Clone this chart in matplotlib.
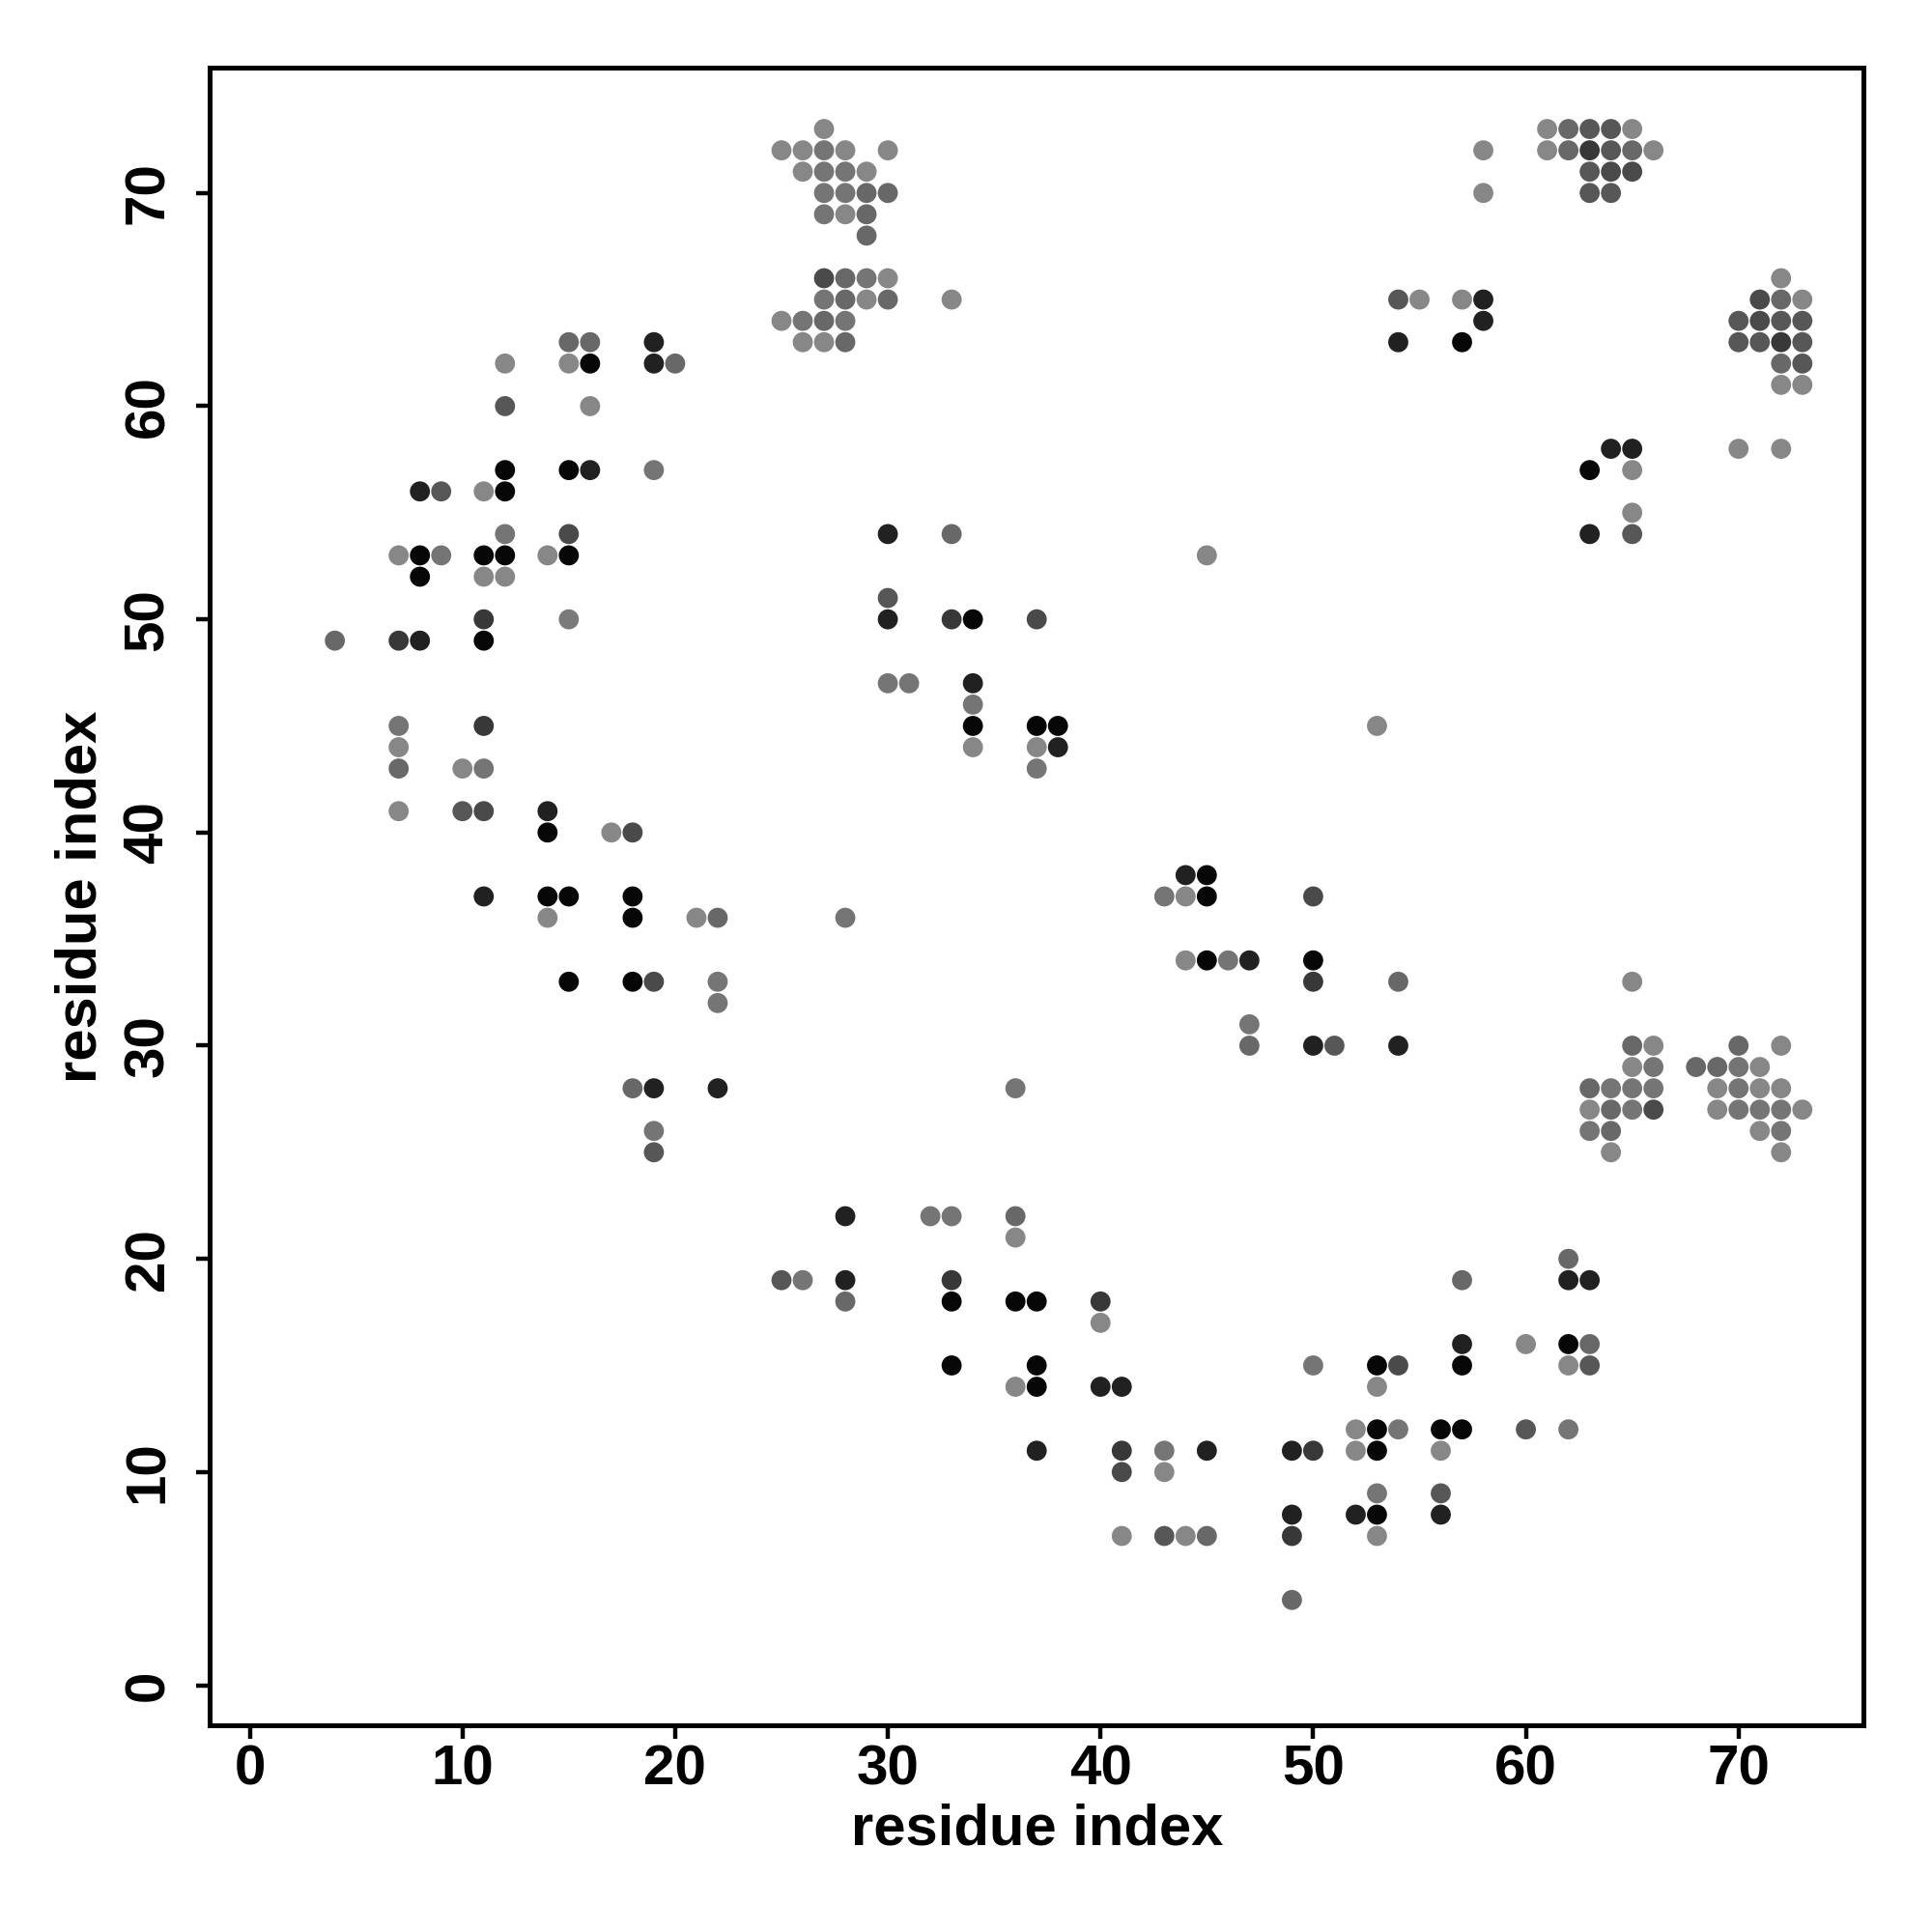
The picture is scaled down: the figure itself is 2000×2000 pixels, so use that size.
import matplotlib
matplotlib.use("Agg")
import matplotlib.pyplot as plt
import numpy as np

# gray shades used for contact strength (0 = black, 1 = white)
K, D, S, M4, M5, M6, M7, L = 0.03, 0.13, 0.22, 0.29, 0.34, 0.41, 0.46, 0.53

# contacts: (residue i, residue j, shade)
contacts = [
    # upper left
    (25, 72, L), (26, 72, L), (26, 71, L), (25, 64, L), (26, 64, M7), (26, 63, L),
    (15, 63, M6), (16, 63, M6), (19, 63, D),
    (12, 62, L), (15, 62, L), (16, 62, K), (19, 62, D), (20, 62, M6),
    (12, 60, M5), (16, 60, L),
    (12, 57, K), (15, 57, K), (16, 57, D), (19, 57, M7),
    (8, 56, D), (9, 56, M5), (11, 56, L), (12, 56, K),
    (12, 54, M7), (15, 54, M4),
    (7, 53, L), (8, 53, K), (9, 53, M7), (11, 53, K), (12, 53, K), (14, 53, L), (15, 53, K),
    (8, 52, K), (11, 52, L), (12, 52, L),
    (11, 50, S), (15, 50, 0.48),
    (4, 49, M6), (7, 49, S), (8, 49, D), (11, 49, K),
    # left middle
    (7, 45, M7), (11, 45, S), (7, 44, L),
    (7, 43, M6), (10, 43, L), (11, 43, M7),
    (7, 41, L), (10, 41, M5), (11, 41, M4), (14, 41, D),
    (14, 40, K), (17, 40, L), (18, 40, M4),
    (11, 37, D), (14, 37, K), (15, 37, K), (18, 37, K),
    (14, 36, L), (18, 36, K), (21, 36, L), (22, 36, M6),
    (15, 33, K), (18, 33, K), (19, 33, M4), (22, 33, M7),
    (22, 32, M7),
    (18, 28, M6), (19, 28, D), (22, 28, D),
    (19, 26, M7), (19, 25, M5),
    # top centre cluster
    (27, 73, L),
    (27, 72, M7), (28, 72, L), (30, 72, L),
    (27, 71, M7), (28, 71, M7), (29, 71, L),
    (27, 70, M7), (28, 70, M7), (29, 70, M6), (30, 70, M6),
    (27, 69, M7), (28, 69, L), (29, 69, M6),
    (29, 68, M6),
    (27, 66, M4), (28, 66, M6), (29, 66, M7), (30, 66, L),
    (27, 65, M7), (28, 65, M6), (29, 65, L), (30, 65, M6),
    (27, 64, M6), (28, 64, M7),
    (27, 63, L), (28, 63, M6),
    (33, 65, L),
    (30, 54, D), (33, 54, M6), (45, 53, L), (30, 51, M5),
    (30, 50, D), (33, 50, S), (34, 50, K), (37, 50, M4),
    # centre
    (30, 47, M7), (31, 47, M7), (34, 47, D), (34, 46, M7),
    (34, 45, K), (37, 45, K), (38, 45, K),
    (34, 44, L), (37, 44, L), (38, 44, D), (37, 43, M7),
    (44, 38, D), (45, 38, K),
    (43, 37, M7), (44, 37, L), (45, 37, K), (50, 37, M4),
    (28, 36, M7),
    (44, 34, L), (45, 34, K), (46, 34, M7), (47, 34, D), (50, 34, K),
    (50, 33, S), (47, 31, M7),
    (47, 30, M6), (50, 30, D), (51, 30, M5),
    (36, 28, M7),
    # top right
    (61, 73, L), (62, 73, M6), (63, 73, M5), (64, 73, M5), (65, 73, L),
    (58, 72, L), (61, 72, L), (62, 72, M6), (63, 72, S), (64, 72, M5), (65, 72, M6), (66, 72, L),
    (63, 71, M5), (64, 71, M4), (65, 71, M4),
    (58, 70, L), (63, 70, M5), (64, 70, M5),
    (72, 66, L),
    (54, 65, M5), (55, 65, L), (57, 65, L), (58, 65, D), (71, 65, M4), (72, 65, M6), (73, 65, L),
    (58, 64, D), (70, 64, M5), (71, 64, M4), (72, 64, M5), (73, 64, M5),
    (54, 63, D), (57, 63, K), (70, 63, M5), (71, 63, M5), (72, 63, S), (73, 63, M5),
    (72, 62, M6), (73, 62, M5),
    (72, 61, L), (73, 61, L),
    (64, 58, D), (65, 58, D), (70, 58, L), (72, 58, L),
    (63, 57, K), (65, 57, L), (65, 55, L),
    (63, 54, D), (65, 54, M5),
    # right middle
    (53, 45, L),
    (54, 33, M6), (65, 33, L),
    (54, 30, D), (65, 30, M6), (66, 30, L), (70, 30, M6), (72, 30, L),
    (65, 29, L), (66, 29, M7), (68, 29, M6), (69, 29, M6), (70, 29, M7), (71, 29, L),
    (63, 28, M6), (64, 28, M7), (65, 28, M7), (66, 28, M7), (69, 28, L), (70, 28, M7), (71, 28, L), (72, 28, L),
    (63, 27, L), (64, 27, M6), (65, 27, M7), (66, 27, M4), (69, 27, L), (70, 27, M7), (71, 27, M7), (72, 27, M7), (73, 27, L),
    (63, 26, M7), (64, 26, M6), (71, 26, L), (72, 26, M7),
    (64, 25, L), (72, 25, L),
    # bottom centre
    (28, 22, D), (32, 22, M7), (33, 22, M7), (36, 22, M6),
    (36, 21, L),
    (25, 19, M5), (26, 19, M7), (28, 19, D), (33, 19, S),
    (28, 18, M6), (33, 18, K), (36, 18, K), (37, 18, K), (40, 18, S),
    (40, 17, L),
    (33, 15, K), (37, 15, K), (50, 15, M7),
    (36, 14, L), (37, 14, K), (40, 14, D), (41, 14, D),
    (37, 11, D), (41, 11, S), (43, 11, M7), (45, 11, D), (49, 11, D), (50, 11, S),
    (41, 10, M4), (43, 10, L),
    (49, 8, D),
    (41, 7, L), (43, 7, M5), (44, 7, L), (45, 7, M6), (49, 7, S),
    (49, 4, M6),
    # bottom right
    (62, 20, M6),
    (57, 19, M6), (62, 19, D), (63, 19, D),
    (57, 16, D), (60, 16, L), (62, 16, K), (63, 16, M6),
    (53, 15, K), (54, 15, M4), (57, 15, K), (62, 15, L), (63, 15, M5),
    (53, 14, L),
    (52, 12, L), (53, 12, K), (54, 12, M7), (56, 12, K), (57, 12, K), (60, 12, M5), (62, 12, M7),
    (52, 11, L), (53, 11, K), (56, 11, L),
    (53, 9, M7), (56, 9, M5),
    (52, 8, D), (53, 8, K), (56, 8, D),
    (53, 7, L),
]

res_i = np.array([c[0] for c in contacts])
res_j = np.array([c[1] for c in contacts])
shade = np.array([c[2] for c in contacts])

plt.rcParams["font.family"] = ["Liberation Sans", "DejaVu Sans"]

fig = plt.figure(figsize=(10, 10), dpi=200)
ax = fig.add_axes([0.1086, 0.107, 0.856, 0.858])

ax.scatter(res_i, res_j, c=shade, cmap="gray", vmin=0, vmax=1,
           s=56, linewidths=0)

ax.set_xlim(-1.88, 75.88)
ax.set_ylim(-1.88, 75.88)
ticks = np.arange(0, 71, 10)
ax.set_xticks(ticks)
ax.set_yticks(ticks)

for side in ax.spines.values():
    side.set_linewidth(1.8)

ax.tick_params(axis="both", direction="out", length=5, width=1.6,
               labelsize=21)
ax.tick_params(axis="x", pad=2)
ax.tick_params(axis="y", pad=8)
for lbl in ax.get_xticklabels() + ax.get_yticklabels():
    lbl.set_fontweight("bold")
for lbl in ax.get_yticklabels():
    lbl.set_rotation(90)
    lbl.set_va("center")

ax.set_xlabel("residue index", fontsize=21.5, fontweight="bold")
ax.set_ylabel("residue index", fontsize=21.5, fontweight="bold")
ax.xaxis.set_label_coords(0.5, -0.047)
ax.yaxis.set_label_coords(-0.062, 0.5)

fig.savefig("out.png", dpi=200)
